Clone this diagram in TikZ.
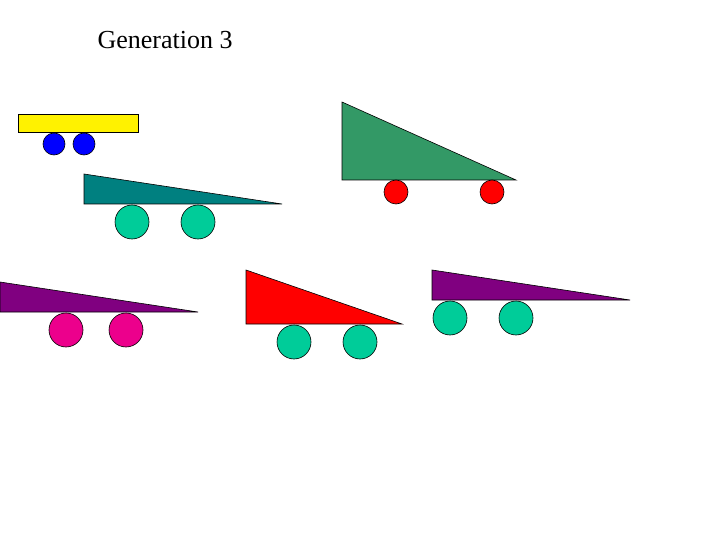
\documentclass[tikz,border=0pt]{standalone}
\usepackage{fontspec}
\setmainfont{Liberation Serif}
\begin{document}
\begin{tikzpicture}[x=1pt,y=-1pt,
  sh/.style={draw=black,line width=0.6pt},
  wh/.style={sh,fill=wheel}]
\definecolor{wheel}{RGB}{0,204,153}
\definecolor{tealc}{RGB}{0,128,128}
\definecolor{grn}{RGB}{51,153,102}
\definecolor{purp}{RGB}{128,0,128}
\useasboundingbox (0,0) rectangle (720,540);
\node[anchor=west,font=\fontsize{26}{30}\selectfont] (title) at (94,40) {Generation 3};
% yellow cart
\draw[sh,fill=yellow] (18,114) rectangle (138,132);
\draw[sh,fill=blue] (54,144) circle (11);
\draw[sh,fill=blue] (84,144) circle (11);
% teal cart
\draw[sh,fill=tealc] (84,174) -- (84,204) -- (282,204) -- cycle;
\draw[wh] (132,222) circle (17);
\draw[wh] (198,222) circle (17);
% green cart
\draw[sh,fill=grn] (342,102) -- (342,180) -- (516,180) -- cycle;
\draw[sh,fill=red] (396,192) circle (12);
\draw[sh,fill=red] (492,192) circle (12);
% purple cart left
\draw[sh,fill=purp] (0,282) -- (0,312) -- (198,312) -- cycle;
\draw[sh,fill=magenta] (66,330) circle (17);
\draw[sh,fill=magenta] (126,330) circle (17);
% red cart
\draw[sh,fill=red] (246,270) -- (246,324) -- (402,324) -- cycle;
\draw[wh] (294,342) circle (17);
\draw[wh] (360,342) circle (17);
% purple cart right
\draw[sh,fill=purp] (432,270) -- (432,300) -- (630,300) -- cycle;
\draw[wh] (450,318) circle (17);
\draw[wh] (516,318) circle (17);
\end{tikzpicture}
\end{document}
